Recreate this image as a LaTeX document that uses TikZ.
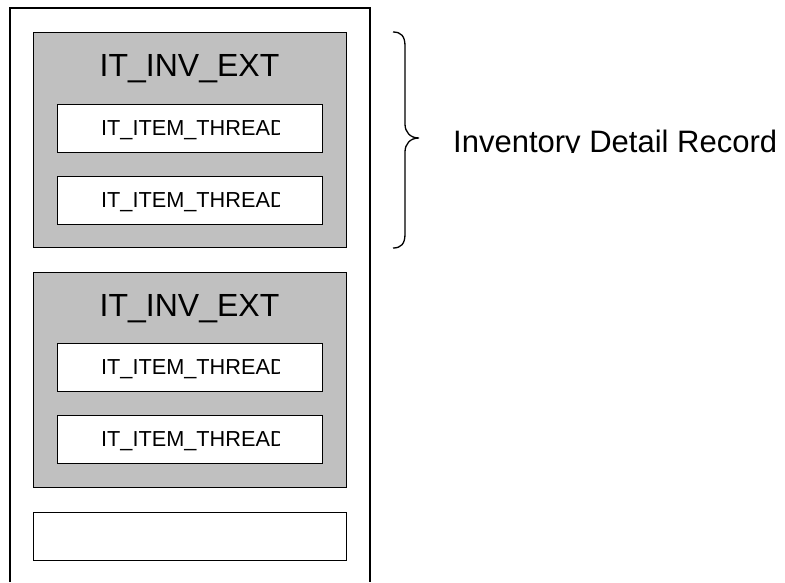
\documentclass[tikz,border=0pt]{standalone}
\usepackage{fontspec}
\setmainfont{Liberation Sans}
\definecolor{extgray}{HTML}{C0C0C0}
\begin{document}
\begin{tikzpicture}[x=1pt,y=-1pt,
  frame/.style={draw=black,line width=1.3pt},
  extbox/.style={frame,fill=extgray,anchor=north west,inner sep=0pt,
    minimum width=313pt,minimum height=215pt},
  threadbox/.style={frame,fill=white,anchor=north west,inner sep=0pt,
    minimum width=265pt,minimum height=48pt},
  tailbox/.style={frame,fill=white,anchor=north west,inner sep=0pt,
    minimum width=313pt,minimum height=48pt},
  exttitle/.style={anchor=base,inner sep=0pt,font=\fontsize{32}{38}\selectfont},
  threadtxt/.style={anchor=base west,inner sep=0pt,font=\fontsize{21.7}{26}\selectfont},
  recordtxt/.style={anchor=base west,inner sep=0pt,font=\fontsize{31}{37}\selectfont},
  brace/.style={draw=black,line width=1.3pt}]

\useasboundingbox (0,0) rectangle (785,582);
\fill[white] (0,0) rectangle (785,582);

% outer container, open at the bottom edge of the page
\draw[frame] (10,582) -- (10,8) -- (370,8) -- (370,582);

% first extension record
\node[extbox] (ext1) at (33,32) {};
\node[exttitle] (ext1t) at (189.5,76) {IT\_INV\_EXT};
\node[threadbox] (th1) at (57,104) {};
\node[threadbox] (th2) at (57,176) {};
\begin{scope}
  \clip (57,104) rectangle (279,152);
  \node[threadtxt] (th1t) at (101,135) {IT\_ITEM\_THREAD};
\end{scope}
\begin{scope}
  \clip (57,176) rectangle (279,224);
  \node[threadtxt] (th2t) at (101,207) {IT\_ITEM\_THREAD};
\end{scope}

% second extension record
\node[extbox] (ext2) at (33,272) {};
\node[exttitle] (ext2t) at (189.5,316) {IT\_INV\_EXT};
\node[threadbox] (th3) at (57,343) {};
\node[threadbox] (th4) at (57,415) {};
\begin{scope}
  \clip (57,343) rectangle (279,392);
  \node[threadtxt] (th3t) at (101,374) {IT\_ITEM\_THREAD};
\end{scope}
\begin{scope}
  \clip (57,415) rectangle (279,464);
  \node[threadtxt] (th4t) at (101,446) {IT\_ITEM\_THREAD};
\end{scope}

% trailing empty record
\node[tailbox] (tail) at (33,512) {};

% brace spanning the first extension record
\coordinate (btop) at (393,32);
\coordinate (btip) at (419,138);
\coordinate (bbot) at (393,248);
\draw[brace] (btop) .. controls (401,32) and (405,36) .. (405,46)
  -- (405,124) .. controls (405,132) and (410,138) .. (btip)
  .. controls (410,138) and (405,144) .. (405,152)
  -- (405,234) .. controls (405,244) and (401,248) .. (bbot);

\begin{scope}
  \clip (440,100) rectangle (785,152.5);
  \node[recordtxt] (rec) at (453,152.5) {Inventory Detail Record};
\end{scope}
\end{tikzpicture}
\end{document}
